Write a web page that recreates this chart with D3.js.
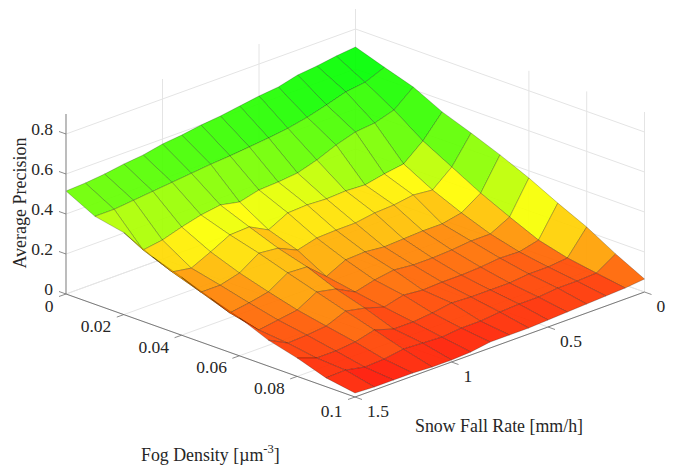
<!DOCTYPE html>
<html>
<head>
<meta charset="utf-8">
<title>Average Precision surface</title>
<script src="https://d3js.org/d3.v7.min.js"></script>
<style>
  body { margin: 0; background: #fff; }
  text { font-family: "Liberation Serif", serif; fill: #262626; }
</style>
</head>
<body>
<div id="chart"></div>
<script>
var fogValues = [0, 0.01, 0.02, 0.03, 0.04, 0.05, 0.06, 0.07, 0.08, 0.09, 0.1];
var snowValues = [0, 0.1, 0.2, 0.3, 0.4, 0.5, 0.6, 0.7, 0.8, 0.9, 1.0, 1.1, 1.2, 1.3, 1.4, 1.5];

// one row per fog density, one column per snow fall rate
var fog000 = [.71, .70, .685, .675, .65, .64, .625, .61, .60, .585, .575, .555, .545, .53, .52, .515];
var fog001 = [.66, .62, .607, .577, .55, .53, .517, .507, .497, .49, .48, .47, .46, .45, .44, .44];
var fog002 = [.613, .533, .503, .493, .463, .423, .393, .383, .378, .353, .373, .358, .333, .303, .288, .41];
var fog003 = [.54, .43, .35, .335, .315, .32, .315, .32, .315, .265, .315, .31, .26, .214, .23, .34];
var fog004 = [.486, .351, .271, .281, .266, .261, .246, .245, .241, .215, .26, .27, .206, .18, .18, .29];
var fog005 = [.428, .272, .208, .188, .188, .183, .178, .188, .183, .135, .218, .223, .163, .143, .128, .237];
var fog006 = [.364, .204, .154, .154, .144, .139, .139, .149, .134, .109, .159, .179, .124, .109, .094, .19];
var fog007 = [.29, .14, .116, .12, .11, .105, .105, .10, .11, .085, .115, .135, .095, .085, .08, .13];
var fog008 = [.222, .102, .092, .092, .082, .082, .082, .087, .072, .062, .062, .092, .067, .057, .057, .092];
var fog009 = [.139, .078, .073, .073, .063, .063, .058, .048, .048, .038, .043, .048, .033, .028, .048, .044];
var fog010 = [.065, .055, .05, .045, .04, .035, .03, .03, .03, .015, .01, .01, .015, .015, .015, .02];
var precision = [fog000, fog001, fog002, fog003, fog004, fog005, fog006, fog007, fog008, fog009, fog010];

var zTicks = [0, 0.2, 0.4, 0.6, 0.8];
var fogTicks = [0, 0.02, 0.04, 0.06, 0.08, 0.1];
var snowTicks = [0, 0.5, 1, 1.5];
var fogWallLines = [0.06, 0.08, 0.1];
var snowWallLines = [0.5, 1];

var width = 683, height = 465;
var originX = 355.5, originY = 189;

var svg = d3.select("#chart").append("svg")
    .attr("width", width)
    .attr("height", height);

// oblique view, each data axis moves the point in x and y on screen
var fogX = d3.scaleLinear().domain([0, 0.1]).range([0, 289]);
var fogY = d3.scaleLinear().domain([0, 0.1]).range([0, 103]);
var snowX = d3.scaleLinear().domain([0, 1.5]).range([0, -289.5]);
var snowY = d3.scaleLinear().domain([0, 1.5]).range([0, 105]);
var zY = d3.scaleLinear().domain([0, 1]).range([0, -200]);

function project(f, s, z) {
  return [originX + fogX(f) + snowX(s), originY + fogY(f) + snowY(s) + zY(z)];
}

var color = d3.scaleLinear()
    .domain([0, 0.355, 0.53, 0.71])
    .range(["#ff0000", "#ffff00", "#64ff00", "#00ff00"])
    .clamp(true);

var line = d3.line();

function seg(a, b, stroke, w) {
  svg.append("path")
      .attr("d", line([a, b]))
      .attr("fill", "none")
      .attr("stroke", stroke)
      .attr("stroke-width", w);
}

// grid on the two back walls and the floor
var gridColor = "#e4e4e4";
zTicks.forEach(function(z) {
  seg(project(0, 1.5, z), project(0, 0, z), gridColor, 1);
  seg(project(0, 0, z), project(0.1, 0, z), gridColor, 1);
});
snowWallLines.forEach(function(s) {
  seg(project(0, s, 0), project(0, s, 0.9), gridColor, 1);
});
seg(project(0, 0, 0), project(0, 0, 0.9), gridColor, 1);
fogWallLines.forEach(function(f) {
  seg(project(f, 0, 0), project(f, 0, 0.9), gridColor, 1);
});
fogTicks.forEach(function(f) {
  seg(project(f, 1.5, 0), project(f, 0, 0), gridColor, 1);
});
snowTicks.forEach(function(s) {
  seg(project(0, s, 0), project(0.1, s, 0), gridColor, 1);
});

// surface, far corner first so the near faces paint over it
var faces = [];
d3.range(fogValues.length - 1).forEach(function(i) {
  d3.range(snowValues.length - 1).forEach(function(j) {
    faces.push({
      value: precision[i][j],
      corners: [
        project(fogValues[i], snowValues[j], precision[i][j]),
        project(fogValues[i + 1], snowValues[j], precision[i + 1][j]),
        project(fogValues[i + 1], snowValues[j + 1], precision[i + 1][j + 1]),
        project(fogValues[i], snowValues[j + 1], precision[i][j + 1])
      ]
    });
  });
});

svg.append("g").selectAll("path")
    .data(faces)
  .enter().append("path")
    .attr("d", function(d) { return line(d.corners) + "Z"; })
    .attr("fill", function(d) { return color(d.value); })
    .attr("fill-opacity", 0.92)
    .attr("stroke", "#000")
    .attr("stroke-opacity", 0.45)
    .attr("stroke-width", 0.5);

// axis lines
var axisColor = "#6e6e6e";
seg(project(0, 1.5, 0), project(0, 1.5, 0.9), "#909090", 1.2);
seg(project(0, 1.5, 0), project(0.1, 1.5, 0), axisColor, 0.9);
seg(project(0.1, 1.5, 0), project(0.1, 0, 0), axisColor, 0.9);

// ticks and their labels
zTicks.forEach(function(z) {
  var p = project(0, 1.5, z);
  seg(p, [p[0] - 7, p[1] - 2.5], axisColor, 0.8);
  svg.append("text")
      .attr("x", 53)
      .attr("y", p[1] + 0.5)
      .attr("text-anchor", "end")
      .attr("font-size", 17.5)
      .text(z);
});

fogTicks.forEach(function(f) {
  var p = project(f, 1.5, 0);
  seg(p, [p[0] - 7, p[1] + 2.5], axisColor, 0.8);
  svg.append("text")
      .attr("x", p[0] - 12.5)
      .attr("y", p[1] + (f == 0.1 ? 20 : 17.5))
      .attr("text-anchor", "end")
      .attr("font-size", 17.5)
      .text(f);
});

snowTicks.forEach(function(s) {
  var p = project(0.1, s, 0);
  seg(p, [p[0] + 7, p[1] + 2.5], axisColor, 0.8);
  svg.append("text")
      .attr("x", p[0] + 12)
      .attr("y", p[1] + 20)
      .attr("font-size", 17.5)
      .text(s);
});

// axis titles
svg.append("text")
    .attr("transform", "translate(26,203) rotate(-90)")
    .attr("text-anchor", "middle")
    .attr("font-size", 18)
    .text("Average Precision");

svg.append("text")
    .attr("x", 415)
    .attr("y", 432)
    .attr("font-size", 17.85)
    .text("Snow Fall Rate [mm/h]");

var fogTitle = svg.append("text")
    .attr("x", 141)
    .attr("y", 461)
    .attr("font-size", 17.85);
fogTitle.append("tspan").text("Fog Density [µm");
fogTitle.append("tspan").attr("dy", -8).attr("font-size", 12.5).text("-3");
fogTitle.append("tspan").attr("dy", 8).text("]");
</script>
</body>
</html>
